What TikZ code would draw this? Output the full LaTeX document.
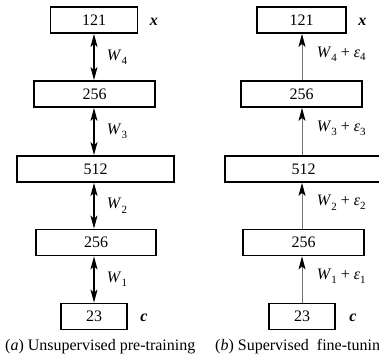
\documentclass[tikz,border=0pt]{standalone}
\usepackage{fontspec}
\setmainfont{Liberation Serif}
\usetikzlibrary{arrows.meta}
\newcommand{\peso}[1]{\textit{W}\raisebox{-0.6ex}{\fontsize{11}{12}\selectfont #1}}
\newcommand{\errore}[1]{\textit{ε}\raisebox{-0.5ex}{\fontsize{11}{12}\selectfont #1}}
\begin{document}
\begin{tikzpicture}[x=1pt,y=-1pt,
  testo/.style={font=\fontsize{16}{19}\selectfont},
  strato/.style={testo,draw,line width=1.8pt,minimum height=26pt,inner sep=0pt},
  doppia/.style={line width=1.3pt,{Stealth[length=13pt,width=7pt,inset=3pt]}-{Stealth[length=13pt,width=7pt,inset=3pt]}},
  singola/.style={line width=0.9pt,draw=black!55,-{Stealth[length=13pt,width=7pt,inset=3pt,color=black]}}]
  \useasboundingbox (0,0) rectangle (379,356);
  \clip (0,0) rectangle (379,356);

  % colonna (a): pre-addestramento
  \node[strato,minimum width=87pt] (a121) at (94,20) {121};
  \node[strato,minimum width=121pt] (a256) at (94.5,94) {256};
  \node[strato,minimum width=157pt] (a512) at (95.5,169) {512};
  \node[strato,minimum width=120pt] (b256) at (96,242.5) {256};
  \node[strato,minimum width=66pt] (a23) at (94,316.5) {23};
  \node[testo,anchor=base west] (ax) at ([xshift=8pt]a121.base east) {\textbf{\textit{x}}};
  \node[testo,anchor=base west] (ac) at ([xshift=9pt]a23.base east) {\textbf{\textit{c}}};

  \draw[doppia] (a121.south) -- (a121.south |- a256.north) node[testo,midway,right=9pt]{\peso{4}};
  \draw[doppia] (a121.south |- a256.south) -- (a121.south |- a512.north) node[testo,midway,right=9pt]{\peso{3}};
  \draw[doppia] (a121.south |- a512.south) -- (a121.south |- b256.north) node[testo,midway,right=9pt]{\peso{2}};
  \draw[doppia] (a121.south |- b256.south) -- (a121.south |- a23.north) node[testo,midway,right=9pt]{\peso{1}};

  % colonna (b): fine-tuning
  \node[strato,minimum width=89pt] (f121) at (301.5,20) {121};
  \node[strato,minimum width=121pt] (f256) at (301.5,94) {256};
  \node[strato,minimum width=157pt] (f512) at (303.5,169) {512};
  \node[strato,minimum width=121pt] (g256) at (303.5,242.5) {256};
  \node[strato,minimum width=66pt] (f23) at (302,316.5) {23};
  \node[testo,anchor=base west] (fx) at ([xshift=8pt]f121.base east) {\textbf{\textit{x}}};
  \node[testo,anchor=base west] (fc) at ([xshift=10pt]f23.base east) {\textbf{\textit{c}}};

  \draw[singola] (f23.north) -- (f23.north |- g256.south) node[testo,midway,right=11pt,yshift=3pt]{\peso{1} + \errore{1}};
  \draw[singola] (f23.north |- g256.north) -- (f23.north |- f512.south) node[testo,midway,right=11pt,yshift=3pt]{\peso{2} + \errore{2}};
  \draw[singola] (f23.north |- f512.north) -- (f23.north |- f256.south) node[testo,midway,right=11pt,yshift=3pt]{\peso{3} + \errore{3}};
  \draw[singola] (f23.north |- f256.north) -- (f23.north |- f121.south) node[testo,midway,right=11pt,yshift=3pt]{\peso{4} + \errore{4}};

  % didascalie
  \node[testo,anchor=base west,inner sep=0pt] (capa) at (5,350) {(\textit{a}) Unsupervised pre-training};
  \node[testo,anchor=base west,inner sep=0pt] (capb) at (215,350) {(\textit{b}) Supervised\ \ fine-tuning};
\end{tikzpicture}
\end{document}
